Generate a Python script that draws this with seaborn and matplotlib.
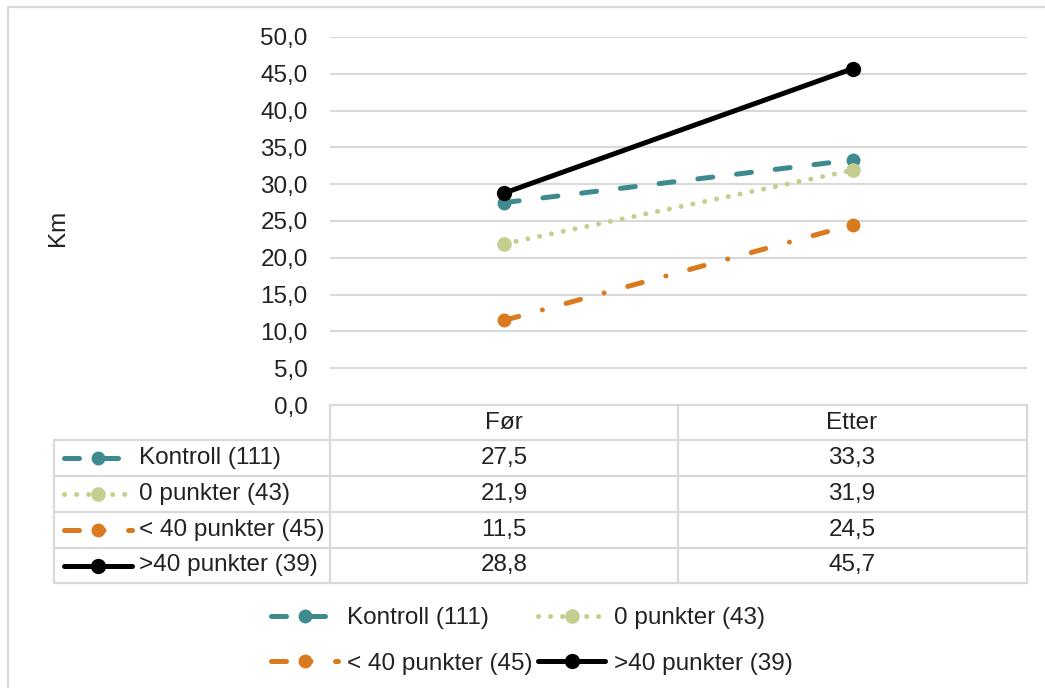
import matplotlib
matplotlib.use("Agg")
import matplotlib.pyplot as plt
import seaborn as sns
import pandas as pd
from matplotlib.lines import Line2D
from matplotlib.patches import Rectangle

# ---- data ----
categories = ["Før", "Etter"]
series_names = ["Kontroll (111)", "0 punkter (43)", "< 40 punkter (45)", ">40 punkter (39)"]
kontroll = [27.5, 33.3]
null_punkter = [21.9, 31.9]
under_40 = [11.5, 24.5]
over_40 = [28.8, 45.7]
values = [kontroll, null_punkter, under_40, over_40]
yticks = [0, 5, 10, 15, 20, 25, 30, 35, 40, 45, 50]

colors = ["#3F8A8F", "#C5CE8E", "#D97A1F", "#000000"]
dashes = [(3.0, 4.8), (0.01, 2.4), (3.0, 4.9, 0.01, 4.9), None]
msizes = [10, 10.5, 10, 11]

W, H = 1045, 688
sns.set_theme(style="white")
plt.rcParams["font.family"] = ["Liberation Sans", "DejaVu Sans"]
FS = 17.5

fig = plt.figure(figsize=(W / 100, H / 100), dpi=100)


def fx(x):
    return x / W


def fy(y):
    return 1 - y / H


ax = fig.add_axes([fx(330), fy(405), fx(1027) - fx(330), fy(37) - fy(405)])

rows = []
for name, vals in zip(series_names, values):
    for i, (c, v) in enumerate(zip(categories, vals)):
        rows.append({"serie": name, "pos": i, "kat": c, "km": v})
df = pd.DataFrame(rows)

LW = 3.6
handles = []
for name, col, d, ms in zip(series_names, colors, dashes, msizes):
    sub = df[df["serie"] == name]
    sns.lineplot(data=sub, x="pos", y="km", ax=ax, color=col, lw=LW,
                 marker="o", markersize=ms, markeredgewidth=0,
                 markeredgecolor=col, legend=False)
    ln = ax.lines[-1]
    if d is not None:
        ln.set_dashes(d)
        ln.set_dash_capstyle("round")
    h = Line2D([0], [0], color=col, lw=LW, marker="o", markersize=ms,
               markeredgewidth=0)
    if d is not None:
        h.set_dashes(d)
        h.set_dash_capstyle("round")
    handles.append(h)

ax.set_xlim(-0.5, 1.5)
ax.set_ylim(0, 50)
ax.set_yticks(yticks)
ax.set_yticklabels([f"{t:.1f}".replace(".", ",") for t in yticks], fontsize=FS, color="#222222")
ax.tick_params(axis="y", length=0, pad=16)
ax.set_xticks([])
ax.set_xlabel("")
ax.set_ylabel("")
for s in ax.spines.values():
    s.set_visible(False)
ax.grid(axis="y", color="#D9D9D9", lw=1.5)
ax.set_axisbelow(True)

fig.text(fx(58), fy(228), "Km", rotation=90, ha="center", va="center", fontsize=FS, color="#222222")

# ---- data table ----
gc = "#D9D9D9"
glw = 1.6


def hline(y, x0, x1):
    fig.add_artist(Line2D([fx(x0), fx(x1)], [fy(y), fy(y)], color=gc, lw=glw, transform=fig.transFigure))


def vline(x, y0, y1):
    fig.add_artist(Line2D([fx(x), fx(x)], [fy(y0), fy(y1)], color=gc, lw=glw, transform=fig.transFigure))


row_edges = [440, 476, 512, 548, 583]
hline(405, 330, 1027)
for y in row_edges:
    hline(y, 54, 1027)
vline(54, 440, 583)
vline(330, 405, 583)
vline(678, 405, 583)
vline(1027, 405, 583)

col_centers = [504, 852]
for c, xc in zip(categories, col_centers):
    fig.text(fx(xc), fy(423), c, ha="center", va="center", fontsize=FS, color="#222222")

for r, (name, vals, col, d, ms) in enumerate(zip(series_names, values, colors, dashes, msizes)):
    yc = (row_edges[r] + row_edges[r + 1]) / 2
    key = Line2D([fx(64), fx(132)], [fy(yc), fy(yc)], color=col, lw=LW, transform=fig.transFigure)
    if d is not None:
        key.set_dashes(d)
        key.set_dash_capstyle("round")
    fig.add_artist(key)
    fig.add_artist(Line2D([fx(98)], [fy(yc)], color=col, marker="o", markersize=ms,
                          markeredgewidth=0, lw=0, transform=fig.transFigure))
    fig.text(fx(139), fy(yc), name, ha="left", va="center", fontsize=FS, color="#222222")
    for v, xc in zip(vals, col_centers):
        fig.text(fx(xc), fy(yc), f"{v:.1f}".replace(".", ","), ha="center", va="center",
                 fontsize=FS, color="#222222")

# ---- legend ----
order = [0, 2, 1, 3]
leg = fig.legend([handles[i] for i in order], [series_names[i] for i in order],
                 ncol=2, loc="center", bbox_to_anchor=(fx(532), fy(641)),
                 frameon=False, fontsize=FS, handlelength=2.75, handletextpad=0.35,
                 columnspacing=0.25, labelspacing=0.95, numpoints=1)
for t in leg.get_texts():
    t.set_color("#222222")

# outer border
fig.add_artist(Rectangle((fx(8), -0.05), 1.1, fy(7) + 0.05, fill=False, edgecolor="#D9D9D9",
                         lw=1.6, transform=fig.transFigure))

fig.savefig("out.png", dpi=100)
